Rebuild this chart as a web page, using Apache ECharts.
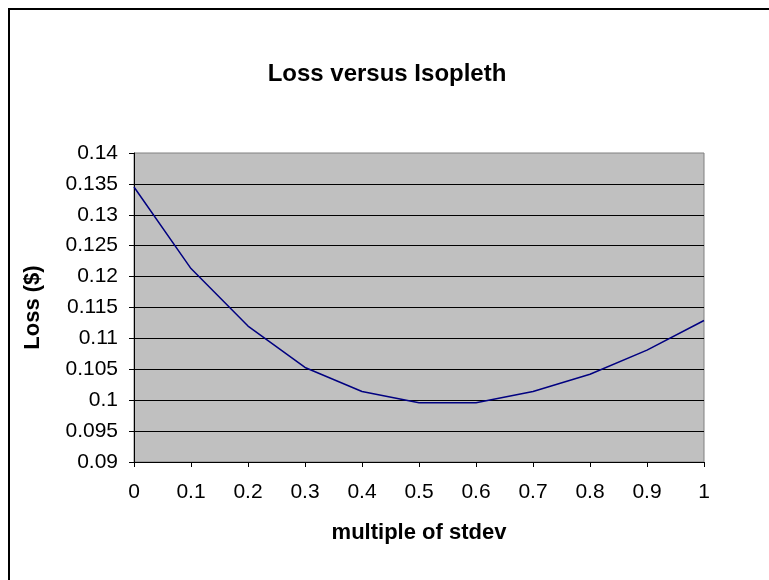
<!DOCTYPE html>
<html>
<head>
<meta charset="utf-8">
<script src="https://cdn.jsdelivr.net/npm/echarts@6/dist/echarts.min.js"></script>
<style>
  html, body { margin: 0; padding: 0; background: #fff; }
  #chart { width: 769px; height: 580px; }
</style>
</head>
<body>
<div id="chart"></div>
<script>
// Multiples of the standard deviation (x) and the resulting loss in dollars (y)
const multiples = [0, 0.1, 0.2, 0.3, 0.4, 0.5, 0.6, 0.7, 0.8, 0.9, 1.0];
const loss = [0.1345, 0.1213, 0.1120, 0.1053, 0.1014, 0.0996, 0.0996, 0.1014, 0.1042, 0.1081, 0.1129];

const chartTitle = 'Loss versus Isopleth';
const xName = 'multiple of stdev';
const yName = 'Loss ($)';

const FONT = '"Liberation Sans", Arial, sans-serif';

const chart = echarts.init(document.getElementById('chart'), null, { renderer: 'canvas' });

chart.setOption({
  backgroundColor: '#ffffff',
  animation: false,
  title: {
    text: chartTitle,
    left: 382,
    top: 57,
    textAlign: 'center',
    textStyle: { fontFamily: FONT, fontSize: 24, fontWeight: 'bold', color: '#000' }
  },
  graphic: [{
    type: 'rect',
    shape: { x: 9, y: 9, width: 800, height: 600 },
    style: { fill: 'none', stroke: '#000', lineWidth: 2 },
    silent: true,
    z: -1
  }],
  grid: {
    left: 134, top: 153, right: 65, bottom: 118,
    show: true,
    backgroundColor: '#c0c0c0',
    borderColor: '#808080',
    borderWidth: 1
  },
  xAxis: {
    type: 'value',
    min: 0, max: 1, interval: 0.1,
    name: xName,
    nameLocation: 'middle',
    nameGap: 60,
    nameTextStyle: { fontFamily: FONT, fontSize: 22, fontWeight: 'bold', color: '#000' },
    axisLine: { show: true, lineStyle: { color: '#000', width: 1 } },
    axisTick: { show: true, length: 5, lineStyle: { color: '#000' } },
    axisLabel: {
      margin: 20,
      fontFamily: FONT, fontSize: 21, color: '#000',
      formatter: v => String(Math.round(v * 10) / 10)
    },
    splitLine: { show: false }
  },
  yAxis: {
    type: 'value',
    min: 0.09, max: 0.14, interval: 0.005,
    name: yName,
    nameLocation: 'middle',
    nameGap: 90,
    nameRotate: 90,
    nameTextStyle: { fontFamily: FONT, fontSize: 22, fontWeight: 'bold', color: '#000' },
    axisLine: { show: true, lineStyle: { color: '#000', width: 1 } },
    axisTick: { show: true, length: 5, lineStyle: { color: '#000' } },
    axisLabel: {
      margin: 16,
      fontFamily: FONT, fontSize: 21, color: '#000',
      formatter: v => String(Math.round(v * 1000) / 1000)
    },
    splitLine: { show: true, showMinLine: false, showMaxLine: false, lineStyle: { color: '#000', width: 1 } }
  },
  series: [{
    type: 'line',
    data: multiples.map((m, i) => [m, loss[i]]),
    showSymbol: false,
    symbol: 'none',
    lineStyle: { color: '#000080', width: 1.5 },
    itemStyle: { color: '#000080' }
  }]
});
</script>
</body>
</html>
